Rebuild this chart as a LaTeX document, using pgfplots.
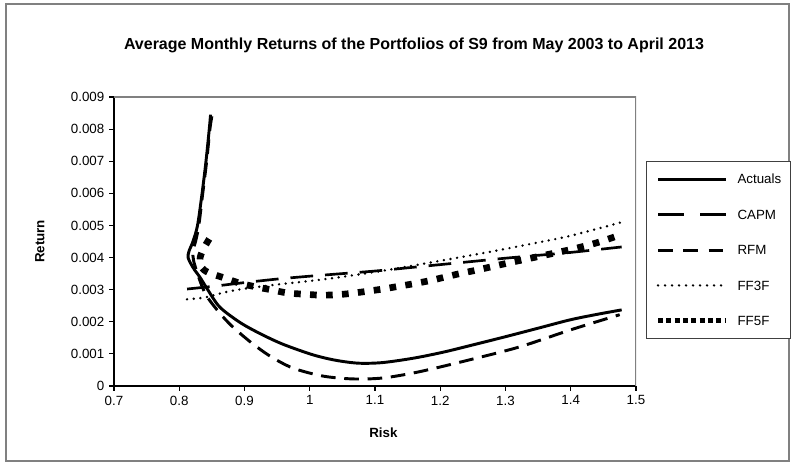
\documentclass[border=0pt]{standalone}
\usepackage{pgfplots}
\pgfplotsset{compat=1.18}
\usepackage{fontspec}
\setmainfont{Liberation Sans}
\begin{document}
\begin{tikzpicture}
\path[use as bounding box] (0,0) rectangle (593.25pt,349.5pt);
\draw[draw=gray, line width=1.3pt] (4.5pt,3.75pt) rectangle (591.75pt,346.5pt);
\node[font=\fontsize{12}{14}\selectfont\bfseries] at (310.5pt,315.75pt) {Average Monthly Returns of the Portfolios of S9 from May 2003 to April 2013};
\begin{axis}[
  at={(85.5pt,60pt)}, anchor=south west,
  scale only axis, width=391.5pt, height=216.75pt,
  xmin=0.7, xmax=1.5, ymin=0, ymax=0.009,
  xtick={0.7,0.8,0.9,1.0,1.1,1.2,1.3,1.4,1.5},
  xticklabels={0.7,0.8,0.9,1,1.1,1.2,1.3,1.4,1.5},
  ytick={0,0.001,0.002,0.003,0.004,0.005,0.006,0.007,0.008,0.009},
  yticklabels={0,0.001,0.002,0.003,0.004,0.005,0.006,0.007,0.008,0.009},
  scaled y ticks=false, scaled x ticks=false,
  axis lines=left, axis line style={-, black, line width=0.9pt},
  tick align=outside, major tick length=3.75pt,
  tick style={black, line width=0.9pt},
  ticklabel style={font=\fontsize{10}{12}\selectfont},
  xlabel={Risk}, ylabel={Return},
  label style={font=\fontsize{10}{12}\selectfont\bfseries},
  xlabel style={at={(axis description cs:0.516,-0.163)}, anchor=center},
  ylabel style={at={(axis description cs:-0.142,0.5)}, anchor=center},
  legend style={at={(axis description cs:1.0192,0.7785)}, anchor=north west,
    draw=black!75, line width=0.8pt, fill=white, inner xsep=6.75pt, inner ysep=9.5pt,
    row sep=19.6pt, column sep=6.75pt,
    nodes={inner sep=0pt, text depth=0pt, font=\fontsize{10}{12}\selectfont},
    cells={anchor=west}},
  legend cell align=left,
  legend image code/.code={\draw[#1] (0pt,0pt) -- (51pt,0pt);},
]
\addplot[black, line width=2.2pt, smooth, forget plot] coordinates {
(0.848,0.00845) (0.846,0.0080) (0.841,0.0070) (0.835,0.0060) (0.828,0.0050)
(0.821,0.0045) (0.815,0.0042) (0.8135,0.0040) (0.818,0.0038) (0.824,0.0036)
(0.832,0.00338) (0.843,0.00302) (0.862,0.00246) (0.893,0.00198) (0.924,0.00163)
(0.959,0.0013) (1.005,0.00097) (1.04,0.0008) (1.075,0.00071) (1.112,0.00073)
(1.16,0.00087) (1.206,0.00106) (1.25,0.00128) (1.299,0.00153) (1.35,0.0018)
(1.399,0.00206) (1.44,0.00223) (1.478,0.00237)};
\addplot[black, line width=2pt, smooth, dash pattern=on 17pt off 9pt, forget plot] coordinates {
(0.812,0.00302) (0.85,0.00310) (0.9,0.00322) (0.95,0.00333) (1.0,0.00342)
(1.05,0.0035) (1.1,0.00358) (1.15,0.00368) (1.2,0.00378) (1.25,0.00388)
(1.3,0.00398) (1.35,0.00407) (1.4,0.00416) (1.478,0.00433)};
\addplot[black, line width=2.2pt, smooth, dash pattern=on 11pt off 6.5pt, forget plot] coordinates {
(0.850,0.0084) (0.847,0.0080) (0.842,0.0070) (0.836,0.0060) (0.830,0.0050)
(0.825,0.0045) (0.821,0.0042) (0.822,0.0039) (0.828,0.0035) (0.835,0.0031)
(0.843,0.00277) (0.862,0.00227) (0.882,0.00184) (0.911,0.00134) (0.94,0.00092)
(0.974,0.00056) (1.02,0.00031) (1.066,0.00022) (1.112,0.00025) (1.167,0.00044)
(1.244,0.00081) (1.322,0.00122) (1.40,0.00175) (1.475,0.00222)};
\addplot[black, line width=2pt, smooth, line cap=round, dash pattern=on 0pt off 5pt, forget plot] coordinates {
(0.812,0.0027) (0.84,0.00276) (0.87,0.00292) (0.9,0.00303) (0.95,0.00316)
(1.0,0.00327) (1.05,0.0034) (1.1,0.00355) (1.15,0.00372) (1.2,0.0039)
(1.25,0.00408) (1.3,0.00427) (1.35,0.00447) (1.4,0.00468) (1.478,0.0051)};
\addplot[black, line width=5pt, smooth, dash pattern=on 5pt off 7pt, forget plot] coordinates {
(0.846,0.00458) (0.838,0.0043) (0.832,0.0040) (0.834,0.0037) (0.845,0.00353)
(0.87,0.00336) (0.893,0.0032) (0.919,0.00308) (0.94,0.0030) (0.965,0.0029)
(0.99,0.00286) (1.016,0.00283) (1.04,0.00284) (1.062,0.00288) (1.088,0.00295)
(1.112,0.00302) (1.135,0.0031) (1.158,0.00318) (1.184,0.00328) (1.207,0.00339)
(1.23,0.0035) (1.256,0.00361) (1.28,0.00372) (1.304,0.00383) (1.35,0.00403)
(1.4,0.00425) (1.44,0.00446) (1.478,0.00472)};
\addlegendimage{black, line width=2.2pt}
\addlegendentry{Actuals}
\addlegendimage{black, line width=2pt, dash pattern=on 19.5pt off 12pt}
\addlegendentry{CAPM}
\addlegendimage{black, line width=2.2pt, dash pattern=on 11pt off 8pt}
\addlegendentry{RFM}
\addlegendimage{black, line width=2pt, line cap=round, dash pattern=on 0pt off 5.25pt}
\addlegendentry{FF3F}
\addlegendimage{black, line width=3.75pt, dash pattern=on 3.75pt off 2.5pt}
\addlegendentry{FF5F}
\draw[gray, line width=1.3pt] (rel axis cs:0,1) -- (rel axis cs:1,1) -- (rel axis cs:1,0);
\end{axis}
\end{tikzpicture}
\end{document}
